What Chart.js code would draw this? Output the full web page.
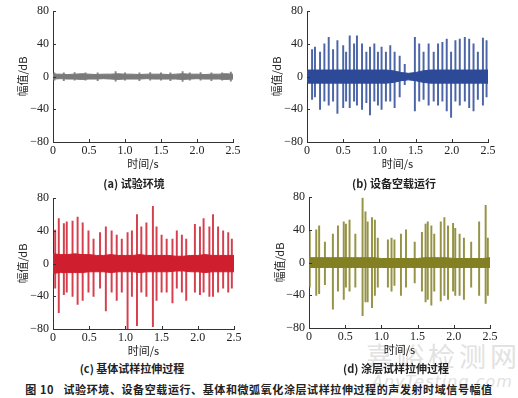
<!DOCTYPE html>
<html>
<head>
<meta charset="utf-8">
<script src="https://cdn.jsdelivr.net/npm/chart.js@4/dist/chart.umd.min.js"></script>
<style>
  html, body { margin: 0; padding: 0; background: #fff; }
  #page { position: relative; width: 518px; height: 398px; overflow: hidden; }
  .panel { position: absolute; }
  .cap { position: absolute; transform: translate(-50%, -50%); white-space: nowrap;
         font-family: "Noto Sans CJK SC", sans-serif; font-weight: bold; font-size: 11px; color: #222; }
  .wm { position: absolute; white-space: nowrap; color: #e2e2e2; }
</style>
</head>
<body>
<div id="page">
  <div class="wm" style="left:366px; top:336px; font-family:'Noto Sans CJK SC'; font-size:27px; letter-spacing:4px;">嘉峪检测网</div>
  <div class="wm" style="left:372px; top:372px; font-family:'DejaVu Sans'; font-style:italic; font-size:16px; letter-spacing:1px;">AnyTesting.com</div>

  <div class="panel" style="left:0; top:0; width:259px; height:172px;"><canvas id="ca"></canvas></div>
  <div class="panel" style="left:258px; top:0; width:260px; height:172px;"><canvas id="cb"></canvas></div>
  <div class="panel" style="left:0; top:187px; width:259px; height:172px;"><canvas id="cc"></canvas></div>
  <div class="panel" style="left:258px; top:186px; width:260px; height:172px;"><canvas id="cd"></canvas></div>

  <div class="cap" style="left:134px; top:183px;">(a) 试验环境</div>
  <div class="cap" style="left:394px; top:183px;">(b) 设备空载运行</div>
  <div class="cap" style="left:132px; top:368px;">(c) 基体试样拉伸过程</div>
  <div class="cap" style="left:396px; top:368px;">(d) 涂层试样拉伸过程</div>
  <div class="cap" style="left:259px; top:389px; letter-spacing:0.6px;">图 10&nbsp;&nbsp;&nbsp;试验环境、设备空载运行、基体和微弧氧化涂层试样拉伸过程的声发射时域信号幅值</div>
</div>
<script>
// axis ticks
const xTicks = [0, 0.5, 1.0, 1.5, 2.0, 2.5];
const xTickLabels = ['0', '0.5', '1.0', '1.5', '2.0', '2.5'];
const yTicks = [-80, -60, -40, -20, 0, 20, 40, 60, 80];

// noise floor envelope, sampled every 0.1 s
const noiseT = [0, 0.1, 0.2, 0.3, 0.4, 0.5, 0.6, 0.7, 0.8, 0.9, 1.0, 1.1, 1.2,
                1.3, 1.4, 1.5, 1.6, 1.7, 1.8, 1.9, 2.0, 2.1, 2.2, 2.3, 2.4, 2.5];

// (a) 试验环境
const aNoiseHi = [3, 3, 2.5, 3, 3.5, 3, 2.5, 3, 3, 3.5, 3, 3, 2.5, 3, 3, 3, 2.5, 3, 3.5, 3, 3, 2.5, 3, 3, 3.5, 3];
const aNoiseLo = [-3, -2.5, -3, -3, -3.5, -3, -3, -2.5, -3, -3.5, -3, -3, -3, -2.5, -3, -3, -3, -3, -3.5, -3, -2.5, -3, -3, -3, -3.5, -3];
const aSpikeT  = [0.02, 0.15, 0.30, 0.45, 0.62, 0.87, 1.00, 1.20, 1.35, 1.50, 1.63, 1.80, 1.90, 2.05, 2.20, 2.35, 2.47];
const aSpikeHi = [4.5, 4.5, 5, 4.5, 4.5, 6, 4.5, 4.5, 5, 4.5, 4.5, 6, 4.5, 5, 4.5, 4.5, 5.5];
const aSpikeLo = [-4.5, -5, -4.5, -4.5, -5, -5.5, -4.5, -5, -4.5, -4.5, -5, -6, -4.5, -4.5, -5, -4.5, -5.5];

// (b) 设备空载运行
const bNoiseHi = [8, 8, 8, 8, 8, 8, 8, 8, 8, 8, 8, 8, 7, 5, 4, 5, 7, 8, 8, 8, 8, 8, 8, 8, 8, 8];
const bNoiseLo = [-8, -8, -8, -8, -8, -8, -8, -8, -8, -8, -8, -8, -7, -5, -4, -5, -7, -8, -8, -8, -8, -8, -8, -8, -8, -8];
const bSpikeT  = [0.07, 0.11, 0.18, 0.24, 0.30, 0.36, 0.42, 0.50, 0.54, 0.59, 0.65, 0.69, 0.76, 0.82,
                  0.87, 0.93, 0.98, 1.03, 1.09, 1.15, 1.21, 1.28, 1.35, 1.49, 1.55, 1.61, 1.68, 1.75,
                  1.81, 1.87, 1.93, 1.99, 2.05, 2.11, 2.18, 2.24, 2.30, 2.36, 2.43, 2.48];
const bSpikeHi = [33, 36, 30, 40, 48, 33, 44, 38, 30, 50, 40, 50, 40, 30,
                  36, 40, 30, 36, 30, 38, 30, 25, 15, 48, 40, 30, 40, 30,
                  40, 42, 46, 30, 44, 46, 48, 46, 40, 30, 47, 44];
const bSpikeLo = [-28, -25, -40, -30, -35, -30, -45, -38, -30, -38, -30, -35, -40, -32,
                  -47, -30, -35, -40, -30, -30, -38, -25, -10, -42, -30, -28, -35, -30,
                  -35, -30, -42, -50, -30, -35, -30, -38, -42, -28, -35, -25];

// (c) 基体试样拉伸过程
const cNoiseHi = [12, 11, 11, 12, 11, 11, 10, 10, 11, 10, 10, 10, 11, 10, 10, 10, 10, 9, 9, 10, 10, 11, 10, 10, 10, 10];
const cNoiseLo = [-12, -11, -11, -11, -11, -10, -10, -10, -11, -10, -10, -10, -11, -10, -10, -10, -10, -9, -9, -10, -10, -11, -10, -10, -10, -10];
const cSpikeT  = [0.03, 0.08, 0.15, 0.19, 0.27, 0.34, 0.41, 0.49, 0.56, 0.65, 0.73, 0.81, 0.88, 0.95,
                  1.03, 1.09, 1.16, 1.22, 1.29, 1.38, 1.43, 1.50, 1.57, 1.65, 1.71, 1.78, 1.84, 1.96,
                  2.03, 2.08, 2.16, 2.21, 2.28, 2.35, 2.42, 2.47];
const cSpikeHi = [41, 55, 49, 51, 52, 57, 50, 40, 30, 38, 45, 40, 35, 30,
                  38, 40, 60, 45, 50, 70, 45, 35, 30, 30, 40, 35, 30, 48,
                  45, 55, 45, 60, 45, 40, 38, 30];
const cSpikeLo = [-30, -60, -38, -35, -40, -50, -45, -35, -40, -30, -58, -35, -45, -35,
                  -80, -40, -76, -35, -40, -77, -45, -35, -35, -48, -30, -35, -45, -35,
                  -38, -35, -40, -40, -35, -30, -35, -30];

// (d) 涂层试样拉伸过程
const dNoiseHi = [6, 6, 6, 6, 6, 6, 6, 6, 6, 6, 5, 5, 5, 5, 5, 5, 6, 6, 6, 6, 5, 5, 5, 5, 5, 6];
const dNoiseLo = [-6, -6, -6, -6, -6, -6, -6, -6, -6, -6, -6, -6, -6, -6, -6, -6, -6, -6, -6, -6, -6, -6, -6, -6, -6, -6];
const dSpikeT  = [0.01, 0.10, 0.14, 0.22, 0.33, 0.40, 0.48, 0.51, 0.56, 0.64, 0.74, 0.78, 0.81, 0.87,
                  0.91, 0.95, 1.09, 1.14, 1.18, 1.27, 1.34, 1.46, 1.56, 1.61, 1.64, 1.69, 1.73, 1.82,
                  1.87, 1.92, 1.99, 2.02, 2.08, 2.14, 2.24, 2.35, 2.44, 2.47];
const dSpikeHi = [38, 40, 45, 25, 35, 45, 50, 47, 52, 35, 79, 62, 50, 55,
                  52, 30, 28, 30, 28, 35, 40, 25, 37, 47, 50, 45, 35, 50,
                  55, 45, 48, 42, 35, 30, 25, 50, 70, 30];
const dSpikeLo = [-30, -40, -38, -27, -57, -35, -45, -30, -35, -30, -65, -48, -48, -55,
                  -40, -30, -30, -35, -28, -40, -30, -25, -35, -48, -45, -52, -35, -47,
                  -40, -45, -35, -40, -40, -45, -30, -40, -50, -40];

const serif = '"Liberation Serif", "DejaVu Serif", serif';
const cjk = '"Noto Sans CJK SC", sans-serif';

// MATLAB-style ticks pointing into the plot area
const inwardTicks = {
    id: 'inwardTicks',
    afterDraw(chart) {
        const { ctx, chartArea: a, scales: { x, y } } = chart;
        ctx.save();
        ctx.strokeStyle = '#333';
        ctx.lineWidth = 1;
        ctx.beginPath();
        x.ticks.forEach(t => {
            const px = Math.round(x.getPixelForValue(t.value)) + 0.5;
            ctx.moveTo(px, a.bottom);
            ctx.lineTo(px, a.bottom - 3);
        });
        y.ticks.forEach(t => {
            const py = Math.round(y.getPixelForValue(t.value)) + 0.5;
            ctx.moveTo(a.left, py);
            ctx.lineTo(a.left + 3, py);
        });
        ctx.stroke();
        ctx.restore();
    }
};

function buildPanel(id, p) {
    const pts = (ts, vs) => ts.map((t, i) => ({ x: t, y: vs[i] }));
    new Chart(document.getElementById(id), {
        type: 'bar',
        data: {
            datasets: [
                {
                    type: 'line',
                    data: pts(noiseT, p.noiseHi),
                    borderColor: p.color,
                    backgroundColor: p.color,
                    borderWidth: 1,
                    pointRadius: 0,
                    tension: 0,
                    fill: '+1'
                },
                {
                    type: 'line',
                    data: pts(noiseT, p.noiseLo),
                    borderColor: p.color,
                    borderWidth: 1,
                    pointRadius: 0,
                    tension: 0,
                    fill: false
                },
                {
                    type: 'bar',
                    data: p.spikeT.map((t, i) => ({ x: t, y: [p.spikeLo[i], p.spikeHi[i]] })),
                    backgroundColor: p.spikeColor,
                    borderWidth: 0,
                    barThickness: 1.3,
                    grouped: false
                }
            ]
        },
        options: {
            responsive: true,
            maintainAspectRatio: false,
            animation: false,
            events: [],
            plugins: { legend: { display: false }, tooltip: { enabled: false } },
            layout: { padding: { top: 10, right: p.padRight, left: 0, bottom: 0 } },
            scales: {
                x: {
                    type: 'linear',
                    offset: false,
                    min: 0,
                    max: 2.5,
                    afterFit: s => { s.height = 30; },
                    afterBuildTicks: s => { s.ticks = xTicks.map(v => ({ value: v })); },
                    grid: { display: false, drawTicks: false, tickLength: 0 },
                    border: { display: true, color: '#333', width: 1 },
                    ticks: {
                        color: '#222',
                        padding: 2,
                        maxRotation: 0,
                        autoSkip: false,
                        font: { family: serif, size: 12 },
                        callback: v => xTickLabels[xTicks.indexOf(v)]
                    },
                    title: {
                        display: true,
                        text: '时间/s',
                        color: '#222',
                        font: { family: cjk, size: 11 },
                        padding: { top: 0, bottom: 2 }
                    }
                },
                y: {
                    min: -80,
                    max: 80,
                    afterFit: s => { s.width = p.yWidth; },
                    afterBuildTicks: s => { s.ticks = yTicks.map(v => ({ value: v })); },
                    grid: { display: false, drawTicks: false, tickLength: 0 },
                    border: { display: true, color: '#333', width: 1 },
                    ticks: {
                        color: '#222',
                        padding: 4,
                        font: { family: serif, size: 12 },
                        callback: v => v < 0 ? '\u2212' + Math.abs(v) : String(v)
                    },
                    title: {
                        display: true,
                        text: '幅值/dB',
                        color: '#222',
                        font: { family: cjk, size: 11 },
                        padding: { top: p.yTitlePad, bottom: 0 }
                    }
                }
            }
        },
        plugins: [inwardTicks]
    });
}

buildPanel('ca', { color: '#7a7a7a', spikeColor: 'rgba(122,122,122,0.9)', noiseHi: aNoiseHi, noiseLo: aNoiseLo,
    spikeT: aSpikeT, spikeHi: aSpikeHi, spikeLo: aSpikeLo, yWidth: 53, padRight: 26, yTitlePad: 16 });
buildPanel('cb', { color: '#2c4a98', spikeColor: 'rgba(44,74,152,0.85)', noiseHi: bNoiseHi, noiseLo: bNoiseLo,
    spikeT: bSpikeT, spikeHi: bSpikeHi, spikeLo: bSpikeLo, yWidth: 49, padRight: 30, yTitlePad: 12 });
buildPanel('cc', { color: '#cf1f2e', spikeColor: 'rgba(207,31,46,0.85)', noiseHi: cNoiseHi, noiseLo: cNoiseLo,
    spikeT: cSpikeT, spikeHi: cSpikeHi, spikeLo: cSpikeLo, yWidth: 53, padRight: 25, yTitlePad: 16 });
buildPanel('cd', { color: '#838024', spikeColor: 'rgba(131,128,36,0.85)', noiseHi: dNoiseHi, noiseLo: dNoiseLo,
    spikeT: dSpikeT, spikeHi: dSpikeHi, spikeLo: dSpikeLo, yWidth: 51, padRight: 28, yTitlePad: 15 });
</script>
</body>
</html>
